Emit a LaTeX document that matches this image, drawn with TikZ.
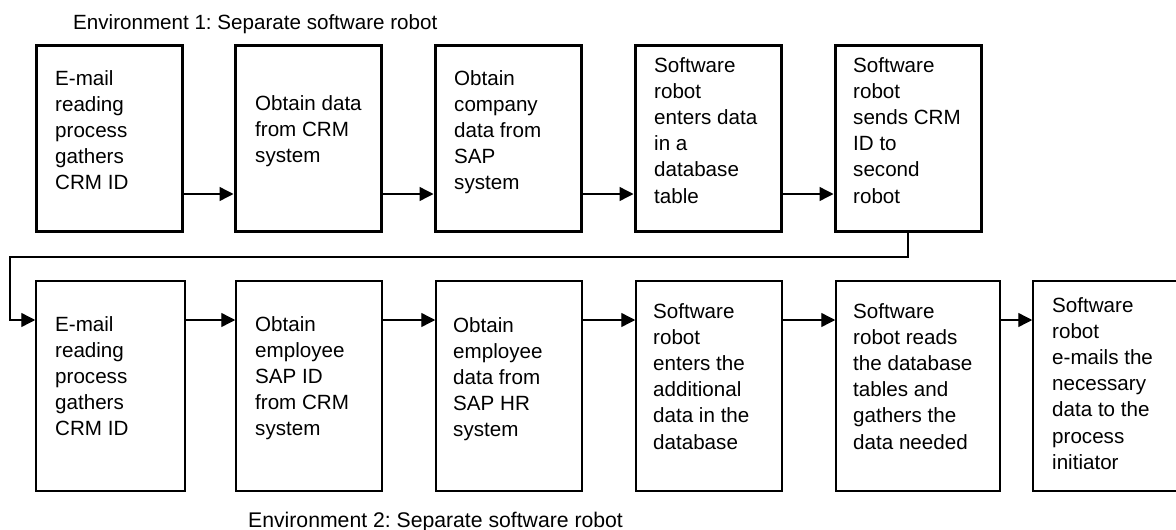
\documentclass[tikz,border=0pt]{standalone}
\usepackage{fontspec}
\setmainfont{Liberation Sans}
\frenchspacing
\usetikzlibrary{arrows.meta,calc}
\begin{document}
\begin{tikzpicture}[x=1pt,y=-1pt,
  topbox/.style={draw=black,line width=3pt,minimum width=146pt,minimum height=186pt,inner sep=0pt},
  botbox/.style={draw=black,line width=1.5pt,minimum height=210pt,inner sep=0pt},
  txt/.style={anchor=north west,inner sep=0pt,align=left,font=\fontsize{20.6}{26.2}\selectfont},
  title/.style={anchor=base west,inner sep=0pt,font=\fontsize{20.6}{24}\selectfont},
  arr/.style={line width=1.4pt,-{Triangle[length=14pt,width=14pt]}},
  conn/.style={line width=1.4pt}]
\useasboundingbox (0,0) rectangle (1176,530);
\clip (0,0) rectangle (1176,530);
% titles
\node[title] (t1) at (73,29) {Environment 1: Separate software robot};
\node[title,font=\fontsize{21.2}{24}\selectfont] (t2) at (248,527) {Environment 2: Separate software robot};
% top row boxes
\node[topbox] (b1) at (109,138) {};
\node[topbox] (b2) at (308,138) {};
\node[topbox] (b3) at (508,138) {};
\node[topbox] (b4) at (708,138) {};
\node[topbox] (b5) at (908,138) {};
\node[txt] (x1) at (55,70) {E-mail\\reading\\process\\gathers\\CRM ID};
\node[txt] (x2) at (255,95) {Obtain data\\from CRM\\system};
\node[txt] (x3) at (454,70) {Obtain\\company\\data from\\SAP\\system};
\node[txt] (x4) at (654,57) {Software\\robot\\enters data\\in a\\database\\table};
\node[txt] (x5) at (853,57) {Software\\robot\\sends CRM\\ID to\\second\\robot};
% bottom row boxes
\node[botbox,minimum width=149pt] (b6) at (110.5,386) {};
\node[botbox,minimum width=146pt] (b7) at (309,386) {};
\node[botbox,minimum width=146pt] (b8) at (509,386) {};
\node[botbox,minimum width=146pt] (b9) at (709,386) {};
\node[botbox,minimum width=164pt] (b10) at (918,386) {};
\node[botbox,minimum width=160pt] (b11) at (1113,386) {};
\node[txt] (x6) at (55,316) {E-mail\\reading\\process\\gathers\\CRM ID};
\node[txt] (x7) at (255,316) {Obtain\\employee\\SAP ID\\from CRM\\system};
\node[txt] (x8) at (453,317) {Obtain\\employee\\data from\\SAP HR\\system};
\node[txt] (x9) at (653,303) {Software\\robot\\enters the\\additional\\data in the\\database};
\node[txt] (x10) at (853,303) {Software\\robot reads\\the database\\tables and\\gathers the\\data needed};
\node[txt] (x11) at (1052,297) {Software\\robot\\e-mails the\\necessary\\data to the\\process\\initiator};
% connectors
\coordinate (r1) at (0,194);
\coordinate (r2) at (0,320);
\coordinate (c1) at (10,257);
\draw[arr] (b1.east |- r1) -- (b2.west |- r1);
\draw[arr] (b2.east |- r1) -- (b3.west |- r1);
\draw[arr] (b3.east |- r1) -- (b4.west |- r1);
\draw[arr] (b4.east |- r1) -- (b5.west |- r1);
\draw[arr] (b5.south) -- (b5.south |- c1) -- (c1) -- (c1 |- r2) -- (b6.west |- r2);
\draw[arr] (b6.east |- r2) -- (b7.west |- r2);
\draw[arr] (b7.east |- r2) -- (b8.west |- r2);
\draw[arr] (b8.east |- r2) -- (b9.west |- r2);
\draw[arr] (b9.east |- r2) -- (b10.west |- r2);
\draw[arr] (b10.east |- r2) -- (b11.west |- r2);
\end{tikzpicture}
\end{document}
